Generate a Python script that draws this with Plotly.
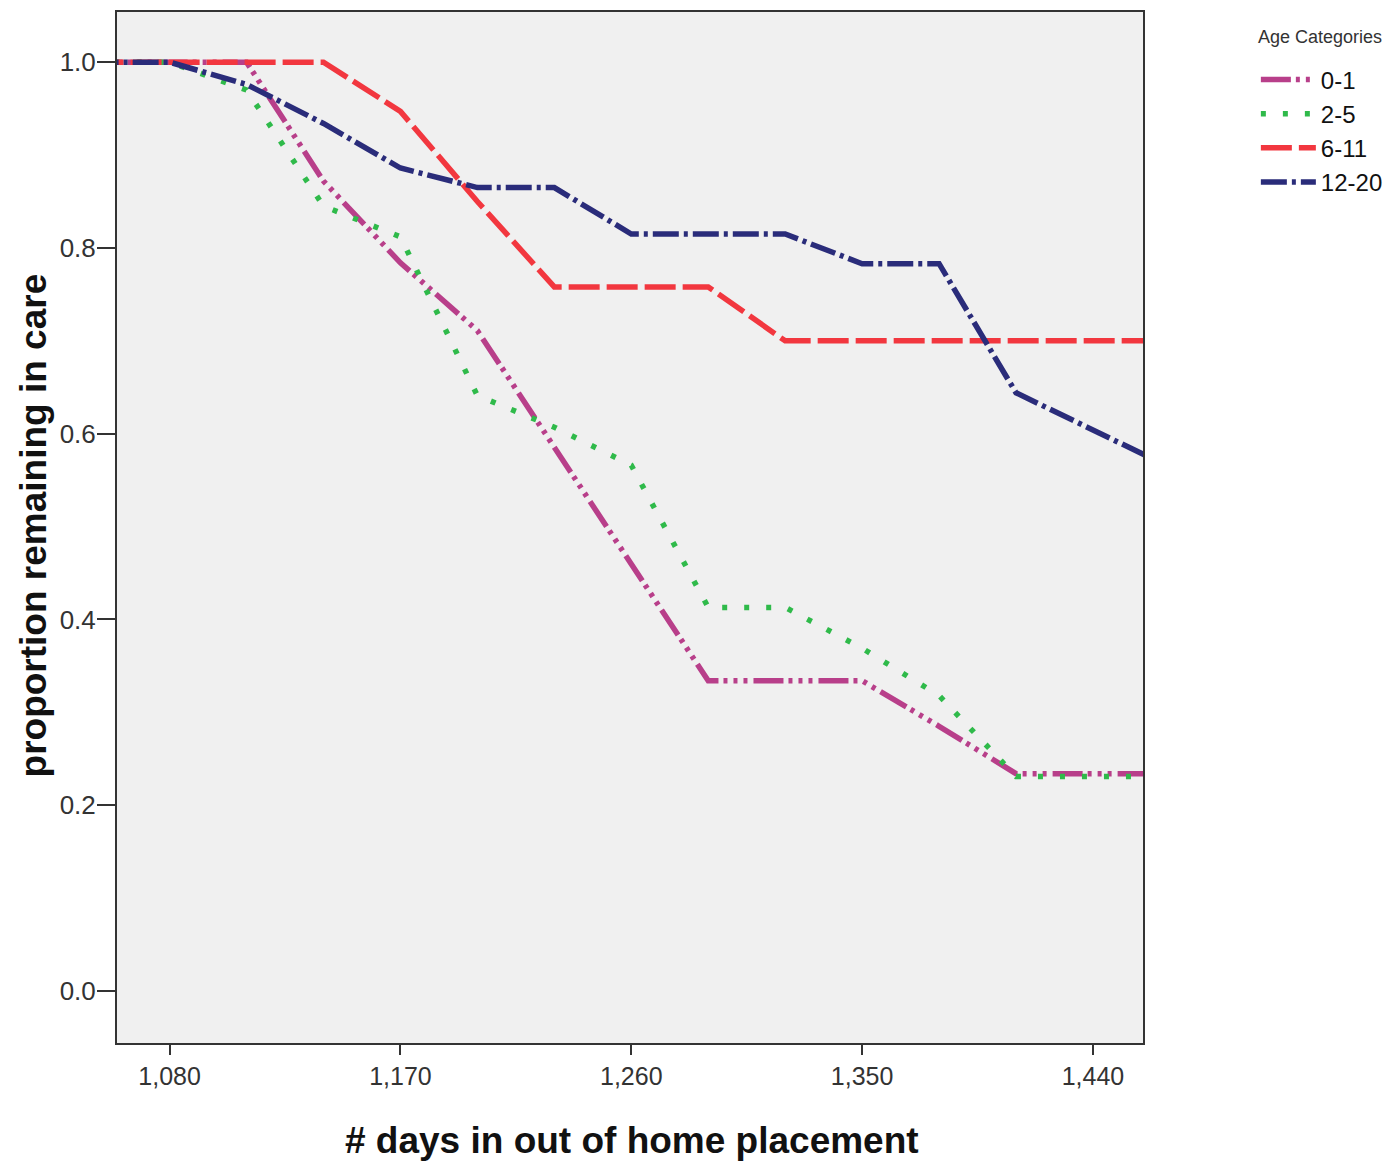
import plotly.graph_objects as go

# ---- data ----
days = [1050, 1080, 1110, 1140, 1170, 1200, 1230, 1260, 1290, 1320, 1350, 1380, 1410, 1440, 1470]

age_0_1 = [1.0, 1.0, 1.0, 0.872, 0.784, 0.711, 0.585, 0.460, 0.334, 0.334, 0.334, 0.285, 0.234, 0.234, 0.234]
age_2_5 = [1.0, 1.0, 0.970, 0.845, 0.812, 0.641, 0.607, 0.566, 0.413, 0.413, 0.369, 0.318, 0.231, 0.231, 0.231]
age_6_11 = [1.0, 1.0, 1.0, 1.0, 0.947, 0.850, 0.758, 0.758, 0.758, 0.700, 0.700, 0.700, 0.700, 0.700, 0.700]
age_12_20 = [1.0, 1.0, 0.976, 0.934, 0.886, 0.865, 0.865, 0.815, 0.815, 0.815, 0.783, 0.783, 0.644, 0.604, 0.564]

series_names = ["0-1", "2-5", "6-11", "12-20"]
x_ticks = [1080, 1170, 1260, 1350, 1440]
y_ticks = [0.0, 0.2, 0.4, 0.6, 0.8, 1.0]

# ---- styles ----
styles = [
    dict(color="#B83F8A", dash="30px,5px,4px,6px,4px,6px,4px,6px", width=5.5),
    dict(color="#2FBA4A", dash="5px,17px", width=5.5),
    dict(color="#F2373F", dash="31px,7px", width=5.5),
    dict(color="#2A2C7A", dash="26px,5px,4px,5px", width=5.5),
]

FONT = "Liberation Sans, Arial, sans-serif"

fig = go.Figure()
for name, vals, st in zip(series_names, [age_0_1, age_2_5, age_6_11, age_12_20], styles):
    fig.add_trace(go.Scatter(x=days, y=vals, mode="lines", name=name, line=st))

fig.update_layout(
    width=1395, height=1153,
    margin=dict(l=109, r=260, t=2, b=118),
    paper_bgcolor="white",
    plot_bgcolor="#F0F0F0",
    font=dict(family=FONT, color="#333333"),
    legend=dict(
        font=dict(size=24, color="#111111", family=FONT),
        x=1.110, xanchor="left", y=0.956, yanchor="top",
        itemwidth=55, tracegroupgap=0, bgcolor="rgba(0,0,0,0)",
    ),
    annotations=[
        dict(text="Age Categories", x=1.110, y=0.9758, xref="paper", yref="paper",
             xanchor="left", yanchor="middle", showarrow=False,
             font=dict(size=18, family=FONT, color="#333333")),
        dict(text="# days in out of home placement", x=0.502, y=0, xref="paper", yref="paper",
             xanchor="center", yanchor="middle", yshift=-97, showarrow=False,
             font=dict(size=37, family=FONT, color="#111111", weight="bold")),
        dict(text="proportion remaining in care", x=0, y=0.502, xref="paper", yref="paper",
             xanchor="center", yanchor="middle", xshift=-84, textangle=-90, showarrow=False,
             font=dict(size=37, family=FONT, color="#111111", weight="bold")),
    ],
)

fig.update_xaxes(
    range=[1059.5, 1459.5], tickvals=x_ticks, tickformat=",d",
    ticks="outside", ticklen=10, tickwidth=2, tickcolor="#333333",
    tickfont=dict(size=25, family=FONT, color="#333333"),
    showline=True, linecolor="#333333", linewidth=2, mirror=True,
    showgrid=False, zeroline=False,
)
fig.update_yaxes(
    range=[-0.056, 1.054], tickvals=y_ticks, tickformat=".1f",
    ticks="outside", ticklen=18, tickwidth=2, tickcolor="#333333",
    tickfont=dict(size=26, family=FONT, color="#333333"),
    showline=True, linecolor="#333333", linewidth=2, mirror=True,
    showgrid=False, zeroline=False, ticklabelstandoff=-4,
)

fig.write_html("out.html")
